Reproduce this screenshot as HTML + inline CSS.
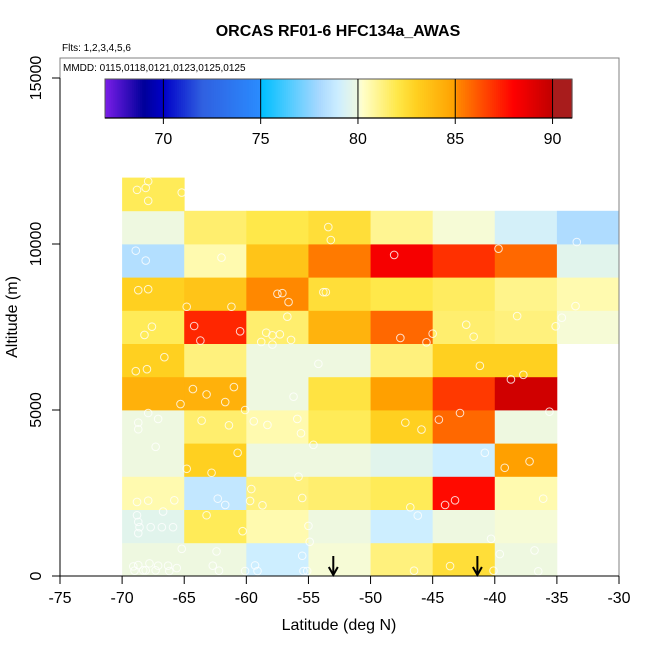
<!DOCTYPE html>
<html><head><meta charset="utf-8"><style>
html,body{margin:0;padding:0;background:#fff}
svg{display:block;font-family:"Liberation Sans",sans-serif}
</style></head><body>
<svg id="chart" width="650" height="650" viewBox="0 0 650 650" xmlns="http://www.w3.org/2000/svg">
<text x="338" y="36" text-anchor="middle" font-size="16" font-weight="bold">ORCAS RF01-6 HFC134a_AWAS</text>
<text x="62" y="51" font-size="10">Flts: 1,2,3,4,5,6</text>
<text x="339" y="630" text-anchor="middle" font-size="16">Latitude (deg N)</text>
<text transform="translate(17,317) rotate(-90)" text-anchor="middle" font-size="16">Altitude (m)</text>
<g id="cells"></g>
<g id="pts"></g>
<g id="arrows"></g>
<g id="axes"></g>
<g id="cbar"></g>
<text x="63" y="71" font-size="10">MMDD: 0115,0118,0121,0123,0125,0125</text>
</svg>
<script>
// ---- data ----
const latBins = [-70,-65,-60,-55,-50,-45,-40,-35];
const altBins = [0,1000,2000,3000,4000,5000,6000,7000,8000,9000,10000,11000];
// rows: altitude bins bottom->top, columns: latitude bins; null = no data
const row0  = [80.0,80.0,79.0,80.1,81.3,82.4,80.0,null];
const row1  = [79.6,81.8,80.6,80.0,79.0,80.0,80.1,null];
const row2  = [80.6,78.7,81.3,81.5,81.8,87.8,80.6,null];
const row3  = [80.0,83.0,80.0,80.0,79.6,79.0,85.0,null];
const row4  = [80.0,81.5,80.6,81.8,83.0,85.8,80.0,null];
const row5  = [84.3,84.3,80.0,82.2,85.0,86.8,89.5,null];
const row6  = [83.0,81.3,80.0,80.0,81.3,83.0,83.0,null];
const row7  = [81.8,87.2,81.5,84.2,85.8,81.5,81.3,80.1];
const row8  = [83.0,83.5,85.1,82.4,82.0,81.7,81.1,80.6];
const row9  = [78.3,80.6,83.5,85.4,88.3,87.0,85.8,79.6];
const row10 = [80.0,81.5,82.0,82.4,81.0,80.1,79.2,78.2];
const row11 = [81.8,null,null,null,null,null,null,null];
const gridValues = [row0,row1,row2,row3,row4,row5,row6,row7,row8,row9,row10,row11];
const xTicks = [-75,-70,-65,-60,-55,-50,-45,-40,-35,-30];
const yTicks = [0,5000,10000,15000];
const cbarTicks = [70,75,80,85,90];
const ptLat = [-67.9,-68.8,-68.1,-67.9,-65.2,-53.4,-53.2,-68.9,-68.1,-62.0,-48.1,-39.7,-33.4,-68.7,-67.9,-64.8,-61.2,-57.5,-57.1,-56.6,-53.8,-53.6,-64.2,-63.7,-60.5,-67.6,-68.2,-56.7,-58.4,-57.9,-57.3,-58.8,-57.9,-56.4,-47.6,-45.5,-45.0,-42.3,-41.7,-38.2,-35.1,-34.6,-33.5,-66.6,-68.9,-68.0,-54.2,-41.2,-37.7,-38.7,-64.3,-63.2,-61.0,-61.7,-65.3,-56.2,-60.1,-67.9,-68.7,-67.1,-68.7,-63.6,-61.4,-59.4,-58.3,-55.9,-55.6,-47.2,-45.9,-44.5,-42.8,-35.6,-67.3,-54.6,-60.7,-64.8,-62.8,-40.8,-39.2,-37.2,-55.8,-59.6,-59.7,-58.7,-55.5,-62.3,-61.7,-68.8,-67.9,-65.8,-46.8,-44.0,-43.2,-36.1,-68.8,-68.7,-68.6,-68.7,-67.7,-66.8,-65.9,-66.7,-63.2,-60.3,-55.0,-54.9,-46.2,-40.3,-65.2,-62.4,-55.5,-59.3,-59.1,-60.1,-62.7,-62.2,-65.6,-66.3,-66.2,-67.1,-67.3,-67.8,-68.1,-68.3,-69.1,-69.0,-68.7,-55.4,-55.1,-46.5,-43.6,-40.1,-39.6,-36.8,-36.5];
const ptAlt = [11890,11630,11690,11300,11550,10510,10120,9800,9500,9590,9670,9860,10060,8610,8640,8110,8110,8500,8520,8250,8550,8550,7530,7090,7370,7510,7260,7810,7330,7250,7280,7050,6970,7110,7170,7040,7300,7570,7210,7830,7520,7780,8130,6590,6170,6230,6390,6330,6060,5920,5630,5470,5690,5240,5180,5400,5000,4910,4620,4730,4420,4680,4540,4660,4550,4730,4300,4620,4410,4710,4910,4950,3890,3950,3710,3230,3110,3710,3260,3450,2990,2620,2260,2130,2350,2330,2140,2230,2270,2280,2070,2140,2280,2330,1830,1630,1470,1290,1470,1470,1470,1940,1830,1350,1510,1030,1820,1120,820,740,610,320,150,150,310,160,240,310,150,310,170,380,170,170,290,160,330,150,150,160,300,160,660,770,140];
const arrowLat = [-53.0,-41.4];
// colour scale stops (value, colour)
const csVals = [67,69,70,72,75,75.05,78,79,80,80.2,82,83,85,85.1,87,88,90,90.05,91];
const csCols = ["#7a1ee8","#00009a","#0000c8","#3060e0","#2a8cff","#00bfff","#a8d8ff","#cdeeff","#eef8e0","#ffffcc","#ffe84a","#ffd020","#ffa000","#ff8800","#ff3000","#ff0000","#c00000","#a81c1c","#a81c1c"];

// ---- scales ----
const X0=60, X1=619, Y0=576, YT=78;
const xs = v => X0 + (v+75)/45*(X1-X0);
const ys = v => Y0 - v/15000*(Y0-YT);
const CB0=105, CB1=572;
const cs = v => CB0 + (v-67)/24*(CB1-CB0);
function hex2rgb(h){return [1,3,5].map(i=>parseInt(h.substr(i,2),16));}
function color(v){
  if(v<=csVals[0]) return csCols[0];
  for(let i=1;i<csVals.length;i++){
    if(v<=csVals[i]){
      const t=(v-csVals[i-1])/(csVals[i]-csVals[i-1]);
      const a=hex2rgb(csCols[i-1]), b=hex2rgb(csCols[i]);
      return "rgb("+a.map((c,k)=>Math.round(c+(b[k]-c)*t)).join(",")+")";
    }
  }
  return csCols[csVals.length-1];
}
const NS="http://www.w3.org/2000/svg";
function mk(tag,attrs,parent){const e=document.createElementNS(NS,tag);for(const k in attrs)e.setAttribute(k,attrs[k]);parent.appendChild(e);return e;}

// ---- heatmap ----
const cells=document.getElementById('cells');
gridValues.forEach((row,ri)=>{
  row.forEach((v,ci)=>{
    if(v===null) return;
    const x=xs(latBins[ci]), x2=xs(latBins[ci]+5), y=ys(altBins[ri]+1000), y2=ys(altBins[ri]);
    const r=mk('rect',{x:x,y:y,width:x2-x+0.4,height:y2-y+0.4,fill:color(v)},cells);
    
    
  });
});
// ---- points ----
const pts=document.getElementById('pts');
ptLat.forEach((la,i)=>{
  const c=mk('circle',{cx:xs(la),cy:ys(ptAlt[i]),r:3.8,fill:'none',stroke:'#ffffff','stroke-opacity':0.8,'stroke-width':1},pts);
  
  
});
// ---- arrows ----
const arr=document.getElementById('arrows');
arrowLat.forEach(la=>{
  const x=xs(la);
  const g=mk('g',{},arr);
  
  
  mk('line',{x1:x,y1:556,x2:x,y2:575,stroke:'#000','stroke-width':2},g);
  mk('polyline',{points:(x-4.5)+',567 '+x+',575 '+(x+4.5)+',567',fill:'none',stroke:'#000','stroke-width':2},g);
});
// ---- axes ----
const ax=document.getElementById('axes');
const box=mk('rect',{x:X0,y:58,width:X1-X0,height:Y0-58,fill:'none',stroke:'#808080','stroke-width':1},ax);


mk('line',{x1:X0,y1:Y0,x2:X1,y2:Y0,stroke:'#000','stroke-width':1},ax);
mk('line',{x1:X0,y1:Y0,x2:X0,y2:ys(15000),stroke:'#000','stroke-width':1},ax);
xTicks.forEach(t=>{
  const x=xs(t);
  mk('line',{x1:x,y1:Y0,x2:x,y2:Y0+8,stroke:'#000'},ax);
  const tx=mk('text',{x:x,y:Y0+27,'text-anchor':'middle','font-size':16},ax);
  tx.textContent=t;
  
  
});
yTicks.forEach(t=>{
  const y=ys(t);
  mk('line',{x1:X0,y1:y,x2:X0-8,y2:y,stroke:'#000'},ax);
  const tx=mk('text',{'text-anchor':'middle','font-size':16,transform:'translate(41,'+y+') rotate(-90)'},ax);
  tx.textContent=t;
  
  
});
// ---- colorbar ----
const cb=document.getElementById('cbar');
const steps=240;
for(let i=0;i<steps;i++){
  const v=67+24*i/steps;
  mk('rect',{x:cs(v),y:79,width:(CB1-CB0)/steps+0.6,height:39,fill:color(v+0.05)},cb);
}
mk('rect',{x:CB0,y:79,width:CB1-CB0,height:39,fill:'none',stroke:'#555','stroke-width':1},cb);
mk('line',{x1:CB0,y1:118,x2:CB1,y2:118,stroke:'#000','stroke-width':1.2},cb);
cbarTicks.forEach(t=>{
  const x=cs(t);
  mk('line',{x1:x,y1:79,x2:x,y2:124,stroke:'#000','stroke-width':1},cb);
  const tx=mk('text',{x:x,y:144,'text-anchor':'middle','font-size':16},cb);
  tx.textContent=t;
  
  
});
</script>
</body></html>
